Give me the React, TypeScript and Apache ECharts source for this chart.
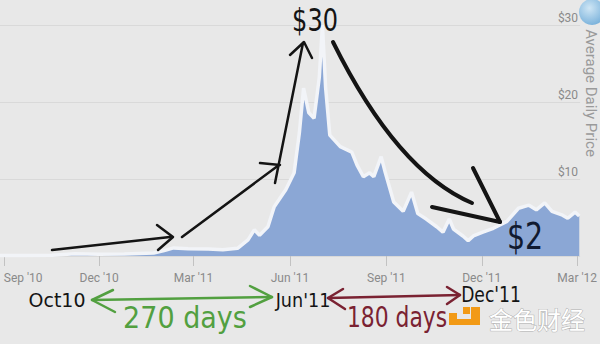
import React, { useEffect, useRef } from "react";
import * as echarts from "echarts";

// Average daily price, late Aug 2010 – early Mar 2012
const priceDates = [
  "2010-08-28", "2010-09-20", "2010-10-17", "2010-11-08", "2010-12-01", "2010-12-25",
  "2011-01-22", "2011-02-01", "2011-02-10", "2011-02-24", "2011-03-15", "2011-03-29",
  "2011-04-12", "2011-04-22", "2011-04-28", "2011-05-03", "2011-05-11", "2011-05-17",
  "2011-05-28", "2011-06-05", "2011-06-10", "2011-06-14", "2011-06-19", "2011-06-24",
  "2011-06-29", "2011-07-02", "2011-07-05", "2011-07-09", "2011-07-19", "2011-07-30",
  "2011-08-04", "2011-08-10", "2011-08-16", "2011-08-20", "2011-08-27", "2011-08-31",
  "2011-09-08", "2011-09-17", "2011-09-25", "2011-10-01", "2011-10-09", "2011-10-19",
  "2011-10-25", "2011-10-31", "2011-11-04", "2011-11-13", "2011-11-18", "2011-11-23",
  "2011-12-02", "2011-12-12", "2011-12-25", "2012-01-05", "2012-01-15", "2012-01-22",
  "2012-01-30", "2012-02-06", "2012-02-16", "2012-02-21", "2012-02-28", "2012-03-03",
];
const prices = [
  0.07, 0.06, 0.1, 0.3, 0.22, 0.25,
  0.4, 0.7, 1.05, 0.95, 0.9, 0.8,
  1.0, 2.1, 3.4, 2.7, 3.8, 6.4,
  8.6, 10.8, 16.0, 21.8, 18.6, 17.9,
  23.2, 30, 21.9, 15.7, 14.2, 13.5,
  11.8, 10.3, 10.8, 10.3, 12.9, 10.8,
  7.0, 5.8, 8.3, 5.5, 4.8, 3.8,
  3.1, 4.8, 3.5, 2.6, 2.0, 2.6,
  3.1, 3.6, 4.5, 6.2, 6.6, 6.0,
  6.9, 5.8, 5.3, 4.9, 5.7, 5.2,
];

// Quarterly x-axis ticks
const tickDates = [
  "2010-09-01", "2010-12-01", "2011-03-01", "2011-06-01",
  "2011-09-01", "2011-12-01", "2012-03-01",
];
const tickLabels = ["Sep '10", "Dec '10", "Mar '11", "Jun '11", "Sep '11", "Dec '11", "Mar '12"];

// Price axis
const priceTicks = [0, 10, 20, 30];

const toTime = (s: string, h = 0) => {
  const [y, m, d] = s.split("-").map(Number);
  return new Date(y, m - 1, d, h).getTime();
};

const axisFont = "'Liberation Sans Narrow', Roboto, sans-serif";
const handFont = "'DejaVu Sans', sans-serif";

function stroke(points: number[][], color: string, width: number) {
  return {
    type: "polyline",
    z: 100,
    shape: { points },
    style: { stroke: color, lineWidth: width, fill: null, lineCap: "round", lineJoin: "round" },
  };
}

function label(text: string, x: number, y: number, size: number, color: string, scaleX = 1, family = handFont) {
  return {
    type: "text",
    z: 100,
    x,
    y,
    scaleX,
    style: {
      text,
      font: `${size}px ${family}`,
      fill: color,
      align: "center",
      verticalAlign: "middle",
      textAlign: "center",
      textVerticalAlign: "middle",
    },
  };
}

export default function App() {
  const ref = useRef<HTMLDivElement>(null);

  useEffect(() => {
    if (!ref.current) return;
    const chart = echarts.init(ref.current, null, { renderer: "svg" });
    const tickTimes = tickDates.map((d) => toTime(d));
    const seriesData = priceDates.map((d, i) => [toTime(d), prices[i]]);

    const black = "#141414";
    const green = "#52a040";
    const maroon = "#7a2232";
    const orange = "#f29a16";

    chart.setOption({
      animation: false,
      backgroundColor: "#e8e8e8",
      grid: { left: 0, right: 15, top: 25, bottom: 88, containLabel: false },
      xAxis: {
        type: "value",
        min: toTime("2010-08-28", 10),
        max: toTime("2012-03-03", 19),
        axisLine: { show: false },
        splitLine: { show: false },
        axisTick: {
          show: true,
          customValues: tickTimes,
          length: 10,
          lineStyle: { color: "#c2c2c2" },
        },
        axisLabel: {
          customValues: tickTimes,
          formatter: (v: number) => {
            const i = tickTimes.indexOf(v);
            return i >= 0 ? tickLabels[i] : "";
          },
          color: "#8a8a8a",
          fontSize: 12,
          fontFamily: axisFont,
          margin: 16,
          alignMinLabel: "left",
          hideOverlap: false,
        },
      },
      yAxis: {
        type: "value",
        position: "right",
        min: priceTicks[0],
        max: priceTicks[priceTicks.length - 1],
        interval: 10,
        axisLine: { show: false },
        axisTick: { show: false },
        splitLine: { show: true, lineStyle: { color: "#d9d9d9", width: 1 } },
        axisLabel: {
          inside: true,
          formatter: "${value}",
          color: "#8a8a8a",
          fontSize: 12,
          fontFamily: axisFont,
          margin: 2,
          verticalAlign: "bottom",
          padding: [0, 0, 1, 0],
        },
      },
      series: [
        {
          type: "line",
          data: seriesData,
          symbol: "none",
          z: 2,
          lineStyle: { color: "#f2f4f8", width: 3.5 },
          areaStyle: { color: "#8ba7d5", opacity: 1 },
        },
      ],
      graphic: [
        // axis title along the right edge
        {
          type: "text",
          z: 100,
          x: 591,
          y: 93,
          rotation: -Math.PI / 2,
          style: {
            text: "Average Daily Price",
            font: "15px Roboto, sans-serif",
            fill: "#9a9a9a",
            align: "center",
            verticalAlign: "middle",
            textAlign: "center",
            textVerticalAlign: "middle",
          },
        },
        {
          type: "circle",
          z: 100,
          shape: { cx: 592, cy: 12, r: 13 },
          style: {
            fill: new echarts.graphic.RadialGradient(0.4, 0.35, 0.8, [
              { offset: 0, color: "#cfe6f5" },
              { offset: 1, color: "#6aa8d6" },
            ]),
          },
        },
        // rising arrows
        stroke([[52, 250], [170, 237]], black, 2.5),
        stroke([[157, 225], [173, 237], [158, 250]], black, 2.5),
        stroke([[182, 237], [279, 165]], black, 2.5),
        stroke([[260, 163], [280, 165]], black, 2.5),
        stroke([[275, 183], [303, 43]], black, 2.5),
        stroke([[290, 55], [304, 42], [312, 58]], black, 2.5),
        label("$30", 315, 20, 32, black, 0.75),
        // falling curve
        {
          type: "bezierCurve",
          z: 100,
          shape: { x1: 333, y1: 42, x2: 472, y2: 203, cpx1: 397, cpy1: 171 },
          style: { stroke: black, lineWidth: 4, fill: null, lineCap: "round" },
        },
        stroke([[473, 168], [500, 222]], black, 4),
        stroke([[432, 207], [500, 222]], black, 4),
        label("$2", 525, 236, 38, "#111a30", 0.75),
        // timeline below the axis
        label("Oct10", 57, 300, 20, black, 0.95),
        label("Jun'11", 303, 300, 20, black, 0.88),
        label("Dec'11", 491, 295, 22, black, 0.78),
        stroke([[92, 300], [272, 297]], green, 2.5),
        stroke([[113, 290], [92, 300], [115, 312]], green, 2.5),
        stroke([[250, 286], [272, 297], [250, 307]], green, 2.5),
        label("270 days", 185, 318, 30, green, 0.9),
        stroke([[328, 298], [460, 295]], maroon, 2.5),
        stroke([[343, 289], [328, 298], [345, 309]], maroon, 2.5),
        stroke([[447, 287], [460, 295], [447, 304]], maroon, 2.5),
        label("180 days", 397, 318, 28, maroon, 0.78),
        // watermark
        { type: "rect", z: 100, shape: { x: 463, y: 307, width: 7, height: 7 }, style: { fill: orange } },
        { type: "rect", z: 100, shape: { x: 449, y: 313, width: 8, height: 7 }, style: { fill: orange } },
        { type: "rect", z: 100, shape: { x: 471, y: 307, width: 9, height: 18 }, style: { fill: orange } },
        { type: "rect", z: 100, shape: { x: 449, y: 319, width: 31, height: 6 }, style: { fill: orange } },
        {
          type: "text",
          z: 100,
          x: 537,
          y: 318,
          style: {
            text: "金色财经",
            font: "24px 'Noto Sans CJK SC', sans-serif",
            fill: "#ffffff",
            stroke: "#b0b0b0",
            lineWidth: 1,
            align: "center",
            verticalAlign: "middle",
            textAlign: "center",
            textVerticalAlign: "middle",
          },
        },
      ],
    });
    return () => chart.dispose();
  }, []);

  return (
    <div
      ref={ref}
      style={{ position: "fixed", left: 0, top: 0, width: 600, height: 344 }}
    />
  );
}
